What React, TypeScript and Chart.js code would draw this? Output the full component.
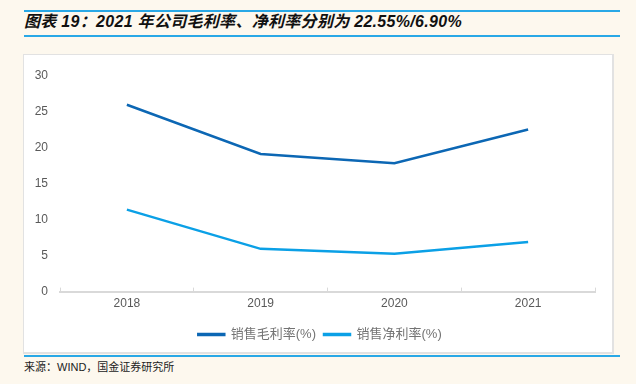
import React, { useEffect, useRef } from "react";
import { Chart, registerables } from "chart.js";

Chart.register(...registerables);

const categories = ["2018", "2019", "2020", "2021"];
const grossMargin = [26.0, 19.15, 17.85, 22.55];
const netMargin = [11.4, 5.95, 5.25, 6.9];
const seriesNames = ["销售毛利率(%)", "销售净利率(%)"];
const yTicks = [0, 5, 10, 15, 20, 25, 30];
const titleText = "图表 19：2021 年公司毛利率、净利率分别为 22.55%/6.90%";
const sourceText = "来源：WIND，国金证券研究所";

const DARK = "#0c67b4";
const LIGHT = "#0ba0e6";

export default function App() {
  const ref = useRef<HTMLCanvasElement | null>(null);
  useEffect(() => {
    if (!ref.current) return;
    const chart = new Chart(ref.current, {
      type: "line",
      data: {
        labels: categories,
        datasets: [
          {
            label: seriesNames[0],
            data: grossMargin,
            borderColor: DARK,
            backgroundColor: DARK,
            borderWidth: 2.5,
            pointRadius: 0,
            tension: 0,
          },
          {
            label: seriesNames[1],
            data: netMargin,
            borderColor: LIGHT,
            backgroundColor: LIGHT,
            borderWidth: 2.5,
            pointRadius: 0,
            tension: 0,
          },
        ],
      },
      options: {
        animation: false,
        responsive: false,
        maintainAspectRatio: false,
        layout: { padding: { top: 21, right: 0, left: 4, bottom: 1 } },
        plugins: {
          tooltip: { enabled: false },
          legend: {
            position: "bottom",
            labels: {
              boxWidth: 26,
              boxHeight: 1,
              padding: 8,
              color: "#737373",
              font: { size: 13, family: "'Liberation Sans', 'Noto Sans CJK SC', sans-serif" },
            },
          },
        },
        scales: {
          x: {
            offset: true,
            grid: {
              offset: true,
              drawOnChartArea: false,
              drawTicks: true,
              tickLength: -4,
              color: "#d9d9d9",
            },
            border: { display: true, color: "#d9d9d9", width: 2 },
            ticks: {
              color: "#595959",
              padding: 9,
              font: { size: 12, family: "'Liberation Sans', sans-serif" },
            },
          },
          y: {
            min: 0,
            max: 30,
            afterFit: (s: any) => {
              s.width = 32;
            },
            afterBuildTicks: (s: any) => {
              s.ticks = yTicks.map((v) => ({ value: v }));
            },
            grid: { display: false },
            border: { display: false },
            ticks: {
              color: "#595959",
              padding: 4,
              font: { size: 12, family: "'Liberation Sans', sans-serif" },
            },
          },
          yRight: {
            position: "right",
            min: 0,
            max: 30,
            afterFit: (s: any) => {
              s.width = 17;
            },
            grid: { display: false },
            border: { display: false },
            ticks: { display: false },
          },
        },
      },
    });
    return () => chart.destroy();
  }, []);

  return (
    <div
      style={{
        position: "fixed",
        left: 0,
        top: 0,
        width: 636,
        height: 384,
        background: "#fdf8ee",
        fontFamily: "'Liberation Sans', 'Noto Sans CJK SC', sans-serif",
        overflow: "hidden",
      }}
    >
      <div style={{ position: "absolute", left: 24, top: 10, width: 596, height: 2, background: "#29a8e6" }} />
      <div
        style={{
          position: "absolute",
          left: 24,
          top: 11,
          fontSize: 16,
          letterSpacing: "0.3px",
          fontWeight: "bold",
          fontStyle: "italic",
          color: "#111111",
          lineHeight: "22px",
          whiteSpace: "nowrap",
        }}
      >
        {titleText}
      </div>
      <div style={{ position: "absolute", left: 24, top: 35, width: 596, height: 2, background: "#29a8e6" }} />
      <div
        style={{
          position: "absolute",
          left: 23,
          top: 54,
          width: 588,
          height: 297,
          background: "#ffffff",
          border: "1px solid #e2e2e2",
          borderRightWidth: 2,
          borderBottomWidth: 2,
        }}
      >
        <canvas ref={ref} width={588} height={297} style={{ display: "block" }} />
      </div>
      <div style={{ position: "absolute", left: 24, top: 355, width: 596, height: 2, background: "#29a8e6" }} />
      <div
        style={{
          position: "absolute",
          left: 24,
          top: 359,
          fontSize: 11,
          color: "#222222",
          whiteSpace: "nowrap",
          lineHeight: "16px",
        }}
      >
        {sourceText}
      </div>
    </div>
  );
}
